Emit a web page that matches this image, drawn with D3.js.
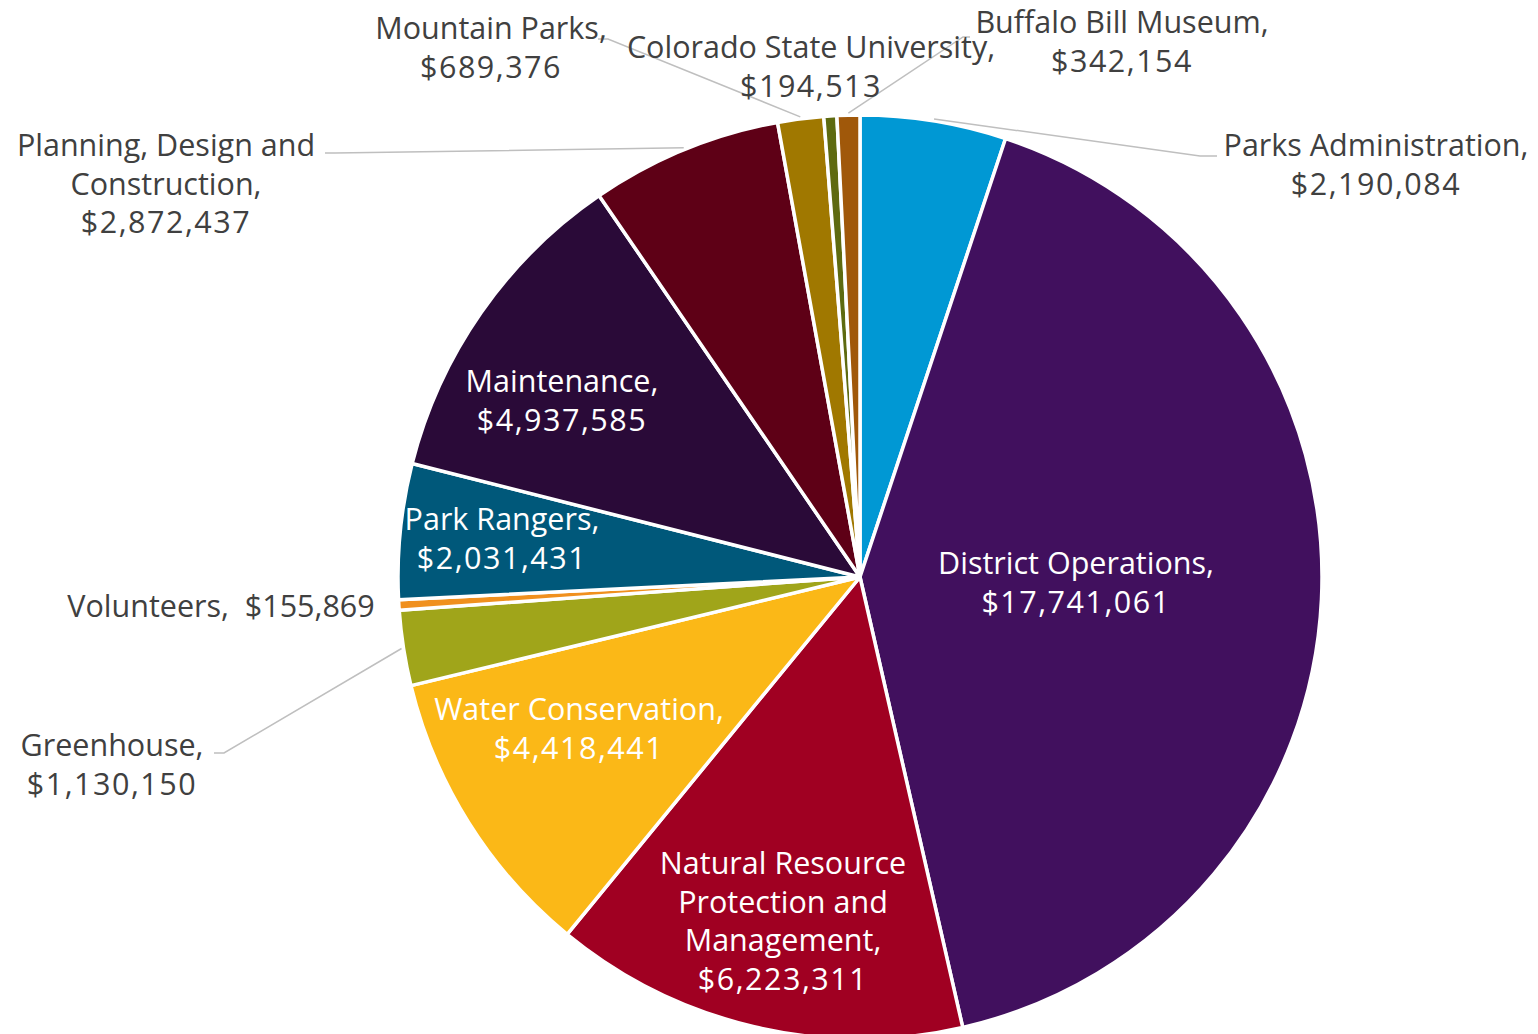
<!DOCTYPE html>
<html>
<head>
<meta charset="utf-8">
<script src="https://cdn.jsdelivr.net/npm/d3@7"></script>
<style>
  body { margin: 0; background: #fff; }
  svg { display: block; }
  text { font-family: "Open Sans", Roboto, sans-serif; white-space: pre; }
</style>
</head>
<body>
<svg id="chart" width="1538" height="1034"></svg>
<script>
// Slices, clockwise from 12 o'clock
const categories = [
  'Parks Administration', 'District Operations', 'Natural Resource Protection and Management',
  'Water Conservation', 'Greenhouse', 'Volunteers', 'Park Rangers', 'Maintenance',
  'Planning, Design and Construction', 'Mountain Parks', 'Colorado State University',
  'Buffalo Bill Museum'
];
const budgets = [
  2190084, 17741061, 6223311, 4418441, 1130150, 155869, 2031431, 4937585,
  2872437, 689376, 194513, 342154
];
const sliceColors = [
  '#0098D4', '#41105E', '#A00022', '#FBB817', '#A0A51A', '#F0901E', '#00587A', '#2A0A38',
  '#5E0016', '#A07800', '#5E6A10', '#A0580A'
];

// label layout: text lines (value appended as last line unless inline), anchor position, leader elbow
const labelLayout = [
  { lines: ['Parks Administration,'], x: 1376, y: 145, outside: true, leader: [[1200, 156], [1217, 156]] },
  { lines: ['District Operations,'], x: 1076, y: 563 },
  { lines: ['Natural Resource', 'Protection and', 'Management,'], x: 783, y: 863 },
  { lines: ['Water Conservation,'], x: 579, y: 709 },
  { lines: ['Greenhouse,'], x: 112, y: 745, outside: true, leader: [[224, 753], [214, 753]] },
  { lines: [], inline: 'Volunteers,  ', x: 221, y: 606, outside: true },
  { lines: ['Park Rangers,'], x: 502, y: 519 },
  { lines: ['Maintenance,'], x: 562, y: 381 },
  { lines: ['Planning, Design and', 'Construction,'], x: 166, y: 145, outside: true, leader: [[335, 153], [325, 153]] },
  { lines: ['Mountain Parks,'], x: 491, y: 28, outside: true, leader: [[608, 39], [598, 39]] },
  { lines: ['Colorado State University,'], x: 811, y: 47, outside: true },
  { lines: ['Buffalo Bill Museum,'], x: 1122, y: 22, outside: true, leader: [[963, 37], [970, 37]] }
];

const width = 1538;
const height = 1034;
const cx = 860;
const cy = 577;
const radius = 462;
const lineH = 38.7;

const svg = d3.select('#chart');
const fmt = d3.format('$,');

const pie = d3.pie().sort(null).value(d => d)
  .startAngle(0).endAngle(2 * Math.PI);
const arcs = pie(budgets);

const arc = d3.arc().innerRadius(0).outerRadius(radius);
const edgeArc = d3.arc().innerRadius(radius + 2).outerRadius(radius + 2);

const g = svg.append('g').attr('transform', `translate(${cx},${cy})`);

// leader lines
const lineGen = d3.line();
arcs.forEach((a, i) => {
  const lay = labelLayout[i];
  if (!lay.leader) return;
  const p = edgeArc.centroid(a);
  const pts = [[p[0] + cx, p[1] + cy]].concat(lay.leader);
  svg.append('path')
    .attr('d', lineGen(pts))
    .attr('fill', 'none')
    .attr('stroke', '#BFBFBF')
    .attr('stroke-width', 1.5);
});

// slices
g.selectAll('path.slice')
  .data(arcs)
  .enter()
  .append('path')
  .attr('class', 'slice')
  .attr('d', arc)
  .attr('fill', (d, i) => sliceColors[i])
  .attr('stroke', '#fff')
  .attr('stroke-width', 3.5)
  .attr('stroke-linejoin', 'round');

// labels
arcs.forEach((a, i) => {
  const lay = labelLayout[i];
  const lines = lay.inline ? [lay.inline + fmt(budgets[i])] : lay.lines.concat([fmt(budgets[i])]);
  const t = svg.append('text')
    .attr('x', lay.x)
    .attr('y', lay.y)
    .attr('text-anchor', 'middle')
    .attr('font-size', 30.5)
    .attr('fill', lay.outside ? '#404040' : '#fff');
  lines.forEach((ln, k) => {
    const isValue = !lay.inline && k === lines.length - 1;
    t.append('tspan')
      .attr('x', lay.x)
      .attr('y', lay.y + k * lineH)
      .attr('dy', '0.36em')
      .attr('letter-spacing', isValue ? 1.5 : 0)
      .text(ln);
  });
});
</script>
</body>
</html>
